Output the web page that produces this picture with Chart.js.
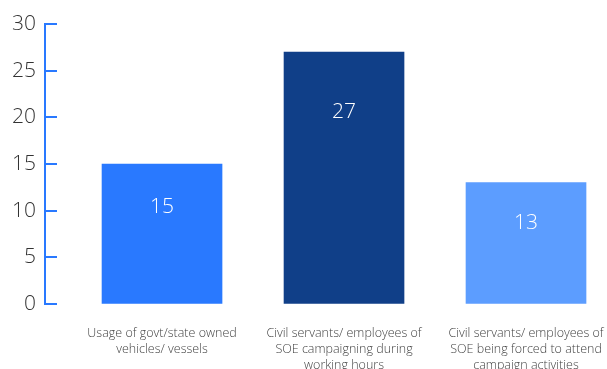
<!DOCTYPE html>
<html>
<head>
<meta charset="utf-8">
<script src="https://cdn.jsdelivr.net/npm/chart.js@4/dist/chart.umd.min.js"></script>
<style>
  html, body { margin: 0; padding: 0; background: #fff; }
  #wrap { width: 607px; height: 369px; position: relative; }
</style>
</head>
<body>
<div id="wrap"><canvas id="chart"></canvas></div>
<script>
const categories = [
    ['Usage of govt/state owned', 'vehicles/ vessels'],
    ['Civil servants/ employees of', 'SOE campaigning during', 'working hours'],
    ['Civil servants/ employees of', 'SOE being forced to attend', 'campaign activities']
];
const values = [15, 27, 13];
const barColors = ['#2979ff', '#103f88', '#5c9dff'];
const yTicks = [0, 5, 10, 15, 20, 25, 30];

const axisBlue = '#2979ff';
const fontFamily = '"Open Sans", "Segoe UI", sans-serif';

// short inward tick marks on the y axis
const yTickMarks = {
    id: 'yTickMarks',
    afterDraw(chart) {
        const ctx = chart.ctx;
        const y = chart.scales.y;
        const x0 = chart.chartArea.left;
        ctx.save();
        ctx.strokeStyle = axisBlue;
        ctx.lineWidth = 2;
        yTicks.forEach(t => {
            const py = Math.round(y.getPixelForValue(t));
            ctx.beginPath();
            ctx.moveTo(x0, py);
            ctx.lineTo(x0 + 12, py);
            ctx.stroke();
        });
        ctx.restore();
    }
};

// value written inside each bar, a bit below its top
const barValues = {
    id: 'barValues',
    afterDatasetsDraw(chart) {
        const ctx = chart.ctx;
        const meta = chart.getDatasetMeta(0);
        ctx.save();
        ctx.fillStyle = '#ffffff';
        ctx.font = '300 21px ' + fontFamily;
        ctx.textAlign = 'center';
        ctx.textBaseline = 'middle';
        meta.data.forEach((bar, i) => {
            const h = bar.base - bar.y;
            ctx.fillText(String(values[i]), bar.x, bar.y + 22 + h * 0.15);
        });
        ctx.restore();
    }
};

new Chart(document.getElementById('chart'), {
    type: 'bar',
    data: {
        datasets: [{
            data: values.map((v, i) => ({ x: i, y: v })),
            backgroundColor: barColors,
            barThickness: 120
        }]
    },
    options: {
        responsive: true,
        maintainAspectRatio: false,
        animation: false,
        layout: { padding: { top: 24, right: 0, left: 0, bottom: 0 } },
        plugins: { legend: { display: false }, tooltip: { enabled: false } },
        scales: {
            x: {
                type: 'linear',
                offset: false,
                min: -0.643,
                max: 2.445,
                afterBuildTicks: axis => { axis.ticks = categories.map((c, i) => ({ value: i })); },
                afterFit: scale => {
                    scale.height = 65;
                    scale.paddingLeft = 0;
                    scale.paddingRight = 0;
                },
                ticks: {
                    callback: v => categories[v] || '',
                    color: '#444',
                    padding: 21,
                    maxRotation: 0,
                    autoSkip: false,
                    font: { family: fontFamily, size: 12.5, weight: '300', lineHeight: 16 / 12.5 }
                },
                grid: { display: false, drawTicks: false, offset: false },
                border: { display: false }
            },
            y: {
                min: 0,
                max: 30,
                afterFit: scale => { scale.width = 45; },
                afterBuildTicks: axis => { axis.ticks = yTicks.map(v => ({ value: v })); },
                ticks: {
                    color: '#333',
                    padding: 9,
                    font: { family: fontFamily, size: 21, weight: '300' }
                },
                grid: { drawOnChartArea: false, drawTicks: false },
                border: { display: true, color: axisBlue, width: 2 }
            }
        }
    },
    plugins: [yTickMarks, barValues]
});
</script>
</body>
</html>
